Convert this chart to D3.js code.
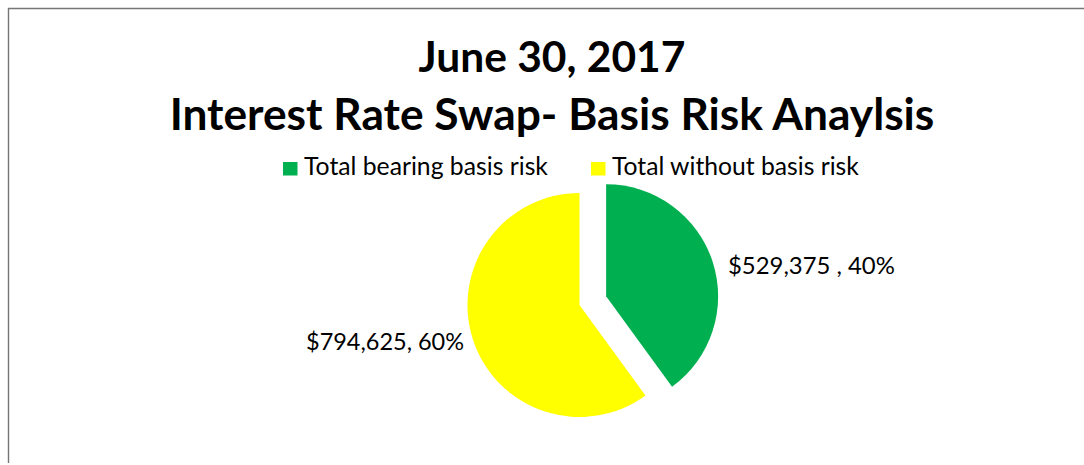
<!DOCTYPE html>
<html>
<head>
<meta charset="utf-8">
<script src="https://cdn.jsdelivr.net/npm/d3@7"></script>
<style>
  html, body { margin: 0; padding: 0; background: #fff; }
  svg { display: block; }
  text { font-family: Lato, "Open Sans", sans-serif; fill: #000; }
</style>
</head>
<body>
<svg id="chart" width="1084" height="465"></svg>
<script>
// Chart data
const titleLines = ["June 30, 2017", "Interest Rate Swap- Basis Risk Anaylsis"];
const categories = ["Total bearing basis risk", "Total without basis risk"];
const values = [529375, 794625];
const percentLabels = ["40%", "60%"];
const sliceColors = ["#00B050", "#FFFF00"];

const svg = d3.select("#chart");
const W = 1084, H = 465;

// Chart-area frame (only the top and left edges fall inside the view)
svg.append("path")
  .attr("d", "M8.5,463 L8.5,8.5 L1084,8.5")
  .attr("fill", "none")
  .attr("stroke", "#767676")
  .attr("stroke-width", 1.4);

// Size a text element so it spans the given width
function fitWidth(sel, width, startSize) {
  sel.style("font-size", startSize + "px");
  const len = sel.node().getComputedTextLength();
  sel.style("font-size", (startSize * width / len) + "px");
  return sel;
}

// Title
const titleY = [72, 130];
const titleW = [267, 765];
titleLines.forEach((t, i) => {
  const el = svg.append("text")
    .attr("x", 552)
    .attr("y", titleY[i])
    .attr("text-anchor", "middle")
    .style("font-weight", "bold")
    .text(t);
  fitWidth(el, titleW[i], 40);
});

// Legend
const legendX = [283, 591];
const legendW = [244, 247];
const legend = svg.append("g");
categories.forEach((c, i) => {
  legend.append("rect")
    .attr("x", legendX[i]).attr("y", 162)
    .attr("width", 14.5).attr("height", 13.5)
    .attr("fill", sliceColors[i]);
  const el = legend.append("text")
    .attr("x", legendX[i] + 21)
    .attr("y", 175)
    .text(c);
  fitWidth(el, legendW[i], 22);
});

// Pie: first slice starts at 12 o'clock and runs clockwise, exploded outward
const cx = 579.5, cy = 305, r = 112, explode = 28;
const pie = d3.pie().sort(null).value(d => d)(values);
const arc = d3.arc().innerRadius(0).outerRadius(r);
const g = svg.append("g").attr("transform", `translate(${cx},${cy})`);
g.selectAll("path")
  .data(pie)
  .join("path")
  .attr("d", arc)
  .attr("fill", (d, i) => sliceColors[i])
  .attr("transform", (d, i) => {
    if (i !== 0) return null;
    const a = (d.startAngle + d.endAngle) / 2;
    return `translate(${explode * Math.sin(a)},${-explode * Math.cos(a)})`;
  });

// Data labels
const fmt = d3.format("$,");
const labelText = [
  fmt(values[0]) + " , " + percentLabels[0],
  fmt(values[1]) + ", " + percentLabels[1]
];
const labelPos = [
  { x: 728, y: 274, anchor: "start", w: 167 },
  { x: 464, y: 350, anchor: "end", w: 158 }
];
labelText.forEach((t, i) => {
  const p = labelPos[i];
  const el = svg.append("text")
    .attr("x", p.x).attr("y", p.y)
    .attr("text-anchor", p.anchor)
    .text(t);
  fitWidth(el, p.w, 22);
});
</script>
</body>
</html>
